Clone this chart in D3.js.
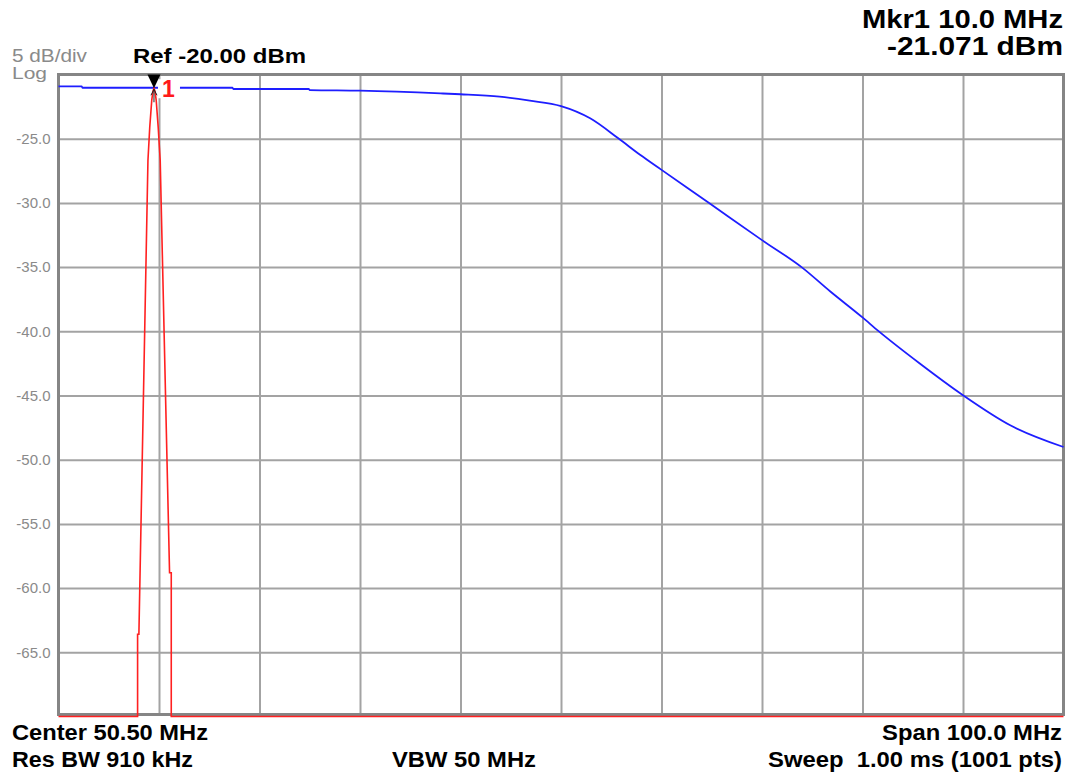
<!DOCTYPE html>
<html>
<head>
<meta charset="utf-8">
<script src="https://cdn.jsdelivr.net/npm/d3@7"></script>
<style>
  body { margin: 0; background: #fff; }
  svg { display: block; font-family: "Liberation Sans", Arial, sans-serif; }
  .lbl { font-weight: bold; fill: #000; white-space: pre; }
  .gray { fill: #8a8a8a; }
</style>
</head>
<body>
<svg id="chart" width="1068" height="773"></svg>
<script>
// instrument settings
const centerMHz = 50.5;
const spanMHz = 100;
const refLevel = -20;
const dbPerDiv = 5;

// y tick labels (dBm)
const yTicks = [-25, -30, -35, -40, -45, -50, -55, -60, -65];

// blue trace (filter response)
const blueFreq = [0.5, 2.8, 2.9, 17.8, 17.9, 25.4, 25.5, 30.5, 38.5, 40.5, 44.4, 47.4, 50.5,
  53.4, 56.2, 58.4, 60.4, 65.2, 70.5, 74.5, 77.3, 80.5, 82.1, 86.2, 90.5, 95.2, 100.5];
const blueLevel = [-20.92, -20.92, -21.03, -21.03, -21.13, -21.13, -21.21, -21.26, -21.47, -21.54, -21.73, -22.04, -22.46,
  -23.41, -24.97, -26.27, -27.37, -29.99, -32.9, -35.04, -36.9, -38.92, -39.99, -42.51, -44.98, -47.32, -49.01];

// red trace (marker signal), anything below -70 sits on the bottom line
const redFreq = [0.5, 8.37, 8.37, 8.5, 9.4, 9.58, 9.78, 9.9, 10.0,
  10.1, 10.22, 10.42, 10.62, 11.55, 11.72, 11.72, 100.5];
const redLevel = [-90, -90, -63.6, -63.6, -26.7, -24.1, -22.0, -21.3, -21.07,
  -21.3, -22.0, -24.1, -26.7, -58.8, -58.8, -90, -90];

const markerFreq = 10.0;
const markerLevel = -21.071;

const svg = d3.select('#chart');
const plotLeft = 58.5, plotRight = 1063.5, plotTop = 74.5, plotBottom = 716.5;

let x = d3.scaleLinear()
    .domain([centerMHz - spanMHz / 2, centerMHz + spanMHz / 2])
    .range([plotLeft, plotRight]);

let y = d3.scaleLinear()
    .domain([refLevel - 10 * dbPerDiv, refLevel])
    .range([plotBottom, plotTop])
    .clamp(true);

// grid
let xDivs = d3.range(1, 10).map(i => x.domain()[0] + i * spanMHz / 10);
svg.append('g')
    .attr('transform', `translate(0,${plotBottom - 2})`)
    .call(d3.axisBottom(x).tickValues(xDivs).tickSize(-(plotBottom - 2 - plotTop)).tickFormat(''))
    .call(g => g.select('.domain').remove())
    .call(g => g.selectAll('line').attr('stroke', '#a3a3a3').attr('stroke-width', 2));

svg.append('g')
    .attr('transform', `translate(${plotLeft},0)`)
    .call(d3.axisLeft(y).tickValues(yTicks).tickSize(-(plotRight - plotLeft)).tickPadding(8)
      .tickFormat(d => d.toFixed(1)))
    .call(g => g.select('.domain').remove())
    .call(g => g.selectAll('line').attr('stroke', '#a3a3a3').attr('stroke-width', 2))
    .call(g => g.selectAll('text')
      .attr('fill', '#8a8a8a')
      .style('font-size', '15px')
      .style('font-family', '"Liberation Sans", Arial, sans-serif'));

// frame
svg.append('rect')
    .attr('x', plotLeft).attr('y', plotTop)
    .attr('width', plotRight - plotLeft).attr('height', plotBottom - 2 - plotTop)
    .attr('fill', 'none')
    .attr('stroke', '#858585')
    .attr('stroke-width', 3);

svg.append('path')
    .datum(d3.zip(blueFreq, blueLevel))
    .attr('d', d3.line().x(d => x(d[0])).y(d => y(d[1])).curve(d3.curveMonotoneX))
    .attr('fill', 'none')
    .attr('stroke', '#1e1eff')
    .attr('stroke-width', 1.8);

// white box behind the marker number
let mx = x(markerFreq), my = y(markerLevel);
svg.append('rect')
    .attr('x', mx + 4).attr('y', my - 9)
    .attr('width', 22).attr('height', 19)
    .attr('fill', '#fff');

svg.append('path')
    .datum(d3.zip(redFreq, redLevel))
    .attr('d', d3.line().x(d => x(d[0])).y(d => y(d[1])))
    .attr('fill', 'none')
    .attr('stroke', '#ff2020')
    .attr('stroke-width', 1.6);

// marker
svg.append('path')
    .attr('d', `M${mx - 6.5},${plotTop}L${mx + 6.5},${plotTop}L${mx},${my}Z`)
    .attr('fill', '#000');
svg.append('path')
    .attr('d', `M${mx - 3},${my + 7}L${mx},${my + 1}L${mx + 3},${my + 7}M${mx},${my + 1}L${mx},${my + 14}`)
    .attr('fill', 'none')
    .attr('stroke', '#222')
    .attr('stroke-width', 1);
svg.append('text')
    .attr('x', mx + 8).attr('y', my + 9)
    .attr('fill', '#ff1a1a')
    .style('font-size', '23px')
    .style('font-weight', 'bold')
    .text('1');

// header / footer annotations
function label(txt, px, py, size, len, anchor, cls) {
  svg.append('text')
      .attr('class', cls || 'lbl')
      .attr('x', px).attr('y', py)
      .attr('text-anchor', anchor || 'start')
      .attr('textLength', len)
      .attr('lengthAdjust', 'spacingAndGlyphs')
      .style('font-size', size + 'px')
      .text(txt);
}

label('5 dB/div', 12, 62, 18, 75, 'start', 'gray');
label('Log', 12, 79, 16, 35, 'start', 'gray');
label('Ref -20.00 dBm', 133, 63, 21, 173);
label('Mkr1 10.0 MHz', 1063, 28, 25, 201, 'end');
label('-21.071 dBm', 1063, 55, 25, 176, 'end');
label('Center 50.50 MHz', 12, 740, 22, 196);
label('Res BW 910 kHz', 12, 767, 22, 181);
label('VBW 50 MHz', 392, 767, 22, 144);
label('Span 100.0 MHz', 1062, 740, 22, 180, 'end');
label('Sweep  1.00 ms (1001 pts)', 1062, 767, 22, 294, 'end');
</script>
</body>
</html>
